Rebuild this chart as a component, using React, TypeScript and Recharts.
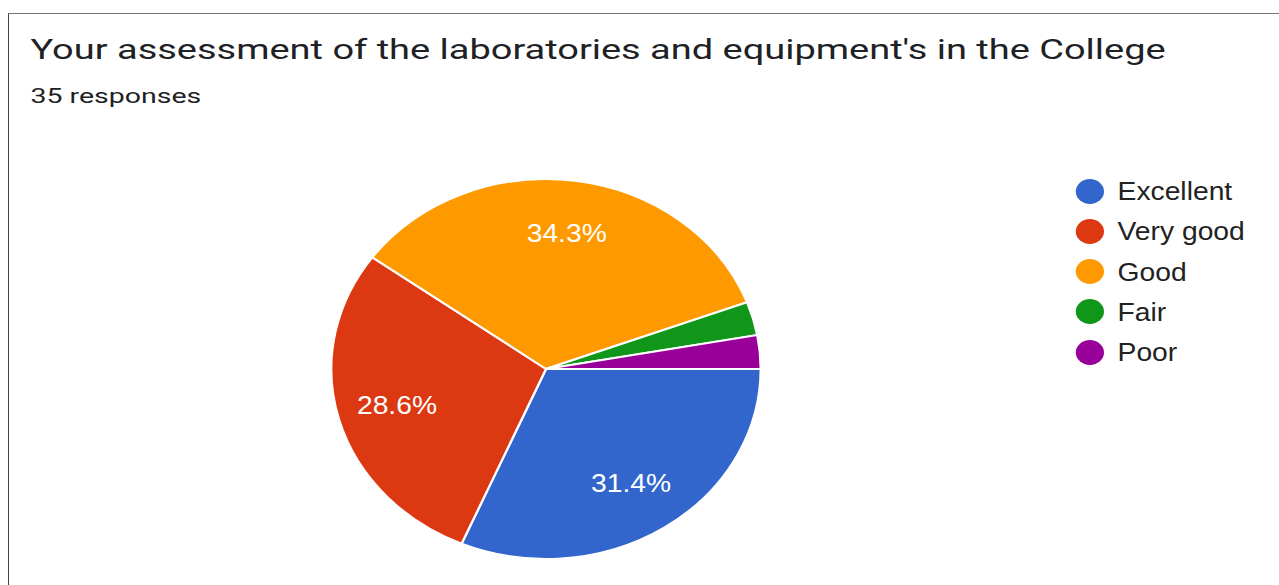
import { PieChart, Pie, Cell } from 'recharts';

const categories = ['Excellent', 'Very good', 'Good', 'Fair', 'Poor'];
const responses = [11, 10, 12, 1, 1];
const COLORS = ['#3366cc', '#dc3912', '#ff9900', '#109618', '#990099'];

const data = categories.map((name, i) => ({ name, value: responses[i] }));
const total = responses.reduce((a, b) => a + b, 0);

// the screenshot is stretched sideways, so the whole card is drawn with a scaleX
const SX = 1.13;
const W = 1279 / SX;
// header text is stretched a bit more than the chart
const HEAD_SX = 1.2;

const RAD = Math.PI / 180;

function SliceLabel({ cx, cy, midAngle, outerRadius, percent }: any) {
  // google hides labels on tiny slices
  if (percent < 0.05) return null;
  const r = outerRadius * 0.72;
  const x = cx + r * Math.cos(-midAngle * RAD);
  const y = cy + r * Math.sin(-midAngle * RAD);
  return (
    <text x={x} y={y} fill="#fff" textAnchor="middle" dominantBaseline="central"
      style={{ fontFamily: 'Arial, "Liberation Sans", sans-serif', fontSize: 25 }}>
      {(percent * 100).toFixed(1)}%
    </text>
  );
}

export default function App() {
  return (
    <div style={{ position: 'fixed', left: 0, top: 0, width: 1279, height: 585, background: '#fff', overflow: 'hidden' }}>
      <div style={{ position: 'absolute', left: 8, top: 13, width: 1320, height: 620, borderTop: '1px solid #777', borderLeft: '1px solid #444' }} />
      <div style={{ position: 'absolute', left: 0, top: 0, width: W, height: 585, transform: `scaleX(${SX})`, transformOrigin: '0 0' }}>
        <div style={{ position: 'absolute', left: 26.5, top: 36.4, fontFamily: 'Roboto, sans-serif', fontSize: 28, lineHeight: '28px', color: '#202124', whiteSpace: 'nowrap', transform: `scaleX(${HEAD_SX})`, transformOrigin: '0 0' }}>
          Your assessment of the laboratories and equipment's in the College
        </div>
        <div style={{ position: 'absolute', left: 26.5, top: 85.6, fontFamily: 'Roboto, sans-serif', fontSize: 21, lineHeight: '21px', color: '#202124', whiteSpace: 'nowrap', transform: `scaleX(${HEAD_SX})`, transformOrigin: '0 0' }}>
          {total} responses
        </div>
        <div style={{ position: 'absolute', left: 0, top: 0 }}>
          <PieChart width={W} height={585} margin={{ top: 0, right: 0, bottom: 0, left: 0 }}>
            <Pie
              data={data}
              dataKey="value"
              nameKey="name"
              cx={546 / SX}
              cy={369}
              outerRadius={190}
              startAngle={0}
              endAngle={-360}
              stroke="#fff"
              strokeWidth={2}
              label={SliceLabel}
              labelLine={false}
              isAnimationActive={false}
            >
              {data.map((d, i) => (
                <Cell key={d.name} fill={COLORS[i % COLORS.length]} />
              ))}
            </Pie>
          </PieChart>
        </div>
        {categories.map((name, i) => (
          <div key={name} style={{ position: 'absolute', left: 952, top: 179 + i * 40.3, height: 24, display: 'flex', alignItems: 'center' }}>
            <span style={{ display: 'inline-block', width: 25, height: 25, borderRadius: '50%', background: COLORS[i] }} />
            <span style={{ marginLeft: 12, fontFamily: 'Arial, "Liberation Sans", sans-serif', fontSize: 25, lineHeight: '24px', color: '#222', whiteSpace: 'nowrap' }}>
              {name}
            </span>
          </div>
        ))}
      </div>
    </div>
  );
}
